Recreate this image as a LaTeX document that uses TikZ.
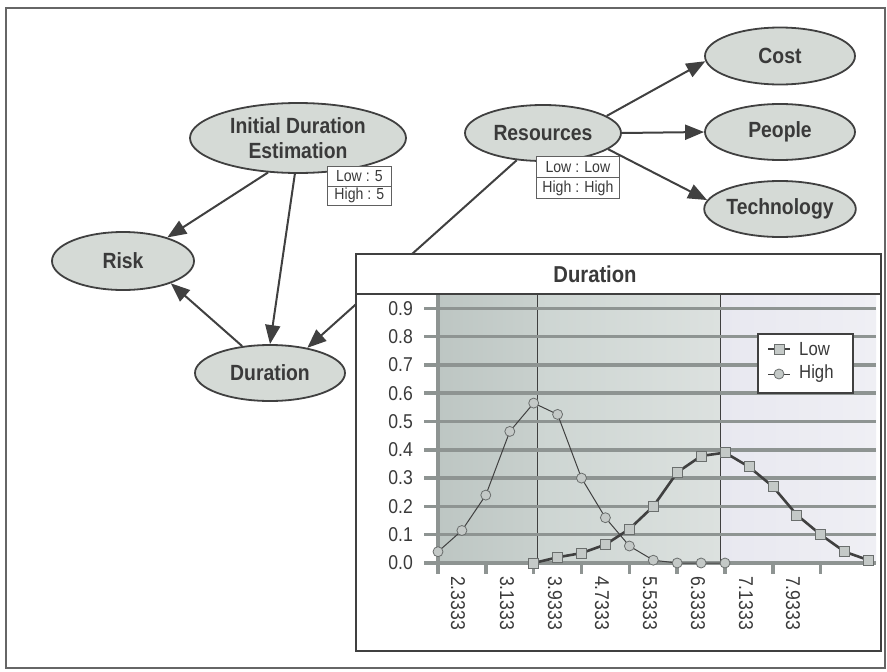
\documentclass[tikz,border=0pt]{standalone}
\usepackage{fontspec}
\setmainfont{Liberation Sans}[FakeStretch=0.88]
\usetikzlibrary{arrows.meta,shapes.geometric,plotmarks}
\definecolor{ink}{HTML}{3A3A3A}
\definecolor{nodefill}{HTML}{D5DAD6}
\definecolor{edgec}{HTML}{404040}
\definecolor{gridc}{HTML}{8E9492}
\definecolor{bgA}{HTML}{BDC6C3}
\definecolor{bgB}{HTML}{C8D0CD}
\definecolor{bgC}{HTML}{CDD5D2}
\definecolor{bgD}{HTML}{DCE1DF}
\definecolor{bgE}{HTML}{E8E8F0}
\definecolor{bgF}{HTML}{EFEFF4}
\definecolor{mkfill}{HTML}{C4C9C7}
\definecolor{mkdraw}{HTML}{6A6E6D}
\begin{document}
\begin{tikzpicture}[x=1pt,y=-1pt,
  bnode/.style={ellipse, draw=edgec, line width=1.8pt, fill=nodefill, text=ink,
    font=\fontsize{22}{25}\selectfont\bfseries, inner sep=0pt, align=center},
  conn/.style={draw=edgec, line width=2pt, -{Triangle[length=19pt,width=15pt]}},
  valbox/.style={draw=gray!75!black, line width=0.8pt, fill=white, text=ink,
    font=\fontsize{16}{18}\selectfont, inner sep=0pt, anchor=north west},
  gridln/.style={draw=gridc, line width=3.5pt},
  ylab/.style={anchor=east, text=ink, font=\fontsize{20}{22}\selectfont, inner sep=0pt},
  xlab/.style={anchor=west, rotate=-90, text=ink, font=\fontsize{20}{22}\selectfont, inner sep=0pt},
  highln/.style={draw=edgec, line width=1pt},
  lowln/.style={draw=edgec, line width=2.6pt},
  highmk/.style={mark=*, mark size=5pt, mark options={fill=mkfill, draw=mkdraw, line width=0.8pt}},
  lowmk/.style={mark=square*, mark size=5pt, mark options={fill=mkfill, draw=mkdraw, line width=0.8pt}},
  legtxt/.style={anchor=west, text=ink, font=\fontsize{19}{21}\selectfont, inner sep=0pt}
]
\useasboundingbox (0,0) rectangle (887,672);
\draw[gray!80!black, line width=1.5pt] (6,8) rectangle (885,668);

% nodes
\node[bnode, minimum width=216pt, minimum height=70pt] (ide) at (298,138) {Initial Duration\\Estimation};
\node[bnode, minimum width=142pt, minimum height=58pt] (risk) at (123,261) {Risk};
\node[bnode, minimum width=150pt, minimum height=56pt] (dur) at (270,373) {Duration};
\node[bnode, minimum width=156pt, minimum height=56pt] (res) at (543,133) {Resources};
\node[bnode, minimum width=150pt, minimum height=57pt] (cost) at (780,56) {Cost};
\node[bnode, minimum width=150pt, minimum height=56pt] (people) at (780,132) {People};
\node[bnode, minimum width=150pt, minimum height=56pt] (tech) at (780,209) {Technology};

% value boxes
\node[valbox, minimum width=64pt, minimum height=19.5pt] (ideLow) at (327,166) {Low : 5};
\node[valbox, minimum width=64pt, minimum height=19.5pt] (ideHigh) at (327,185.5) {High : 5};
\node[valbox, minimum width=83pt, minimum height=21pt] (resLow) at (536,156) {Low : Low};
\node[valbox, minimum width=83pt, minimum height=21pt] (resHigh) at (536,177) {High : High};

% connectors
\draw[conn] (ide.229) -- (risk.28);
\draw[conn] (ide.265) -- (dur.90);
\draw[conn] (dur.136) -- (risk.335);
\draw[conn] (res.226) -- (dur.34);
\draw[conn] (res.15) -- (cost.184);
\draw[conn] (res.east) -- (people.west);
\draw[conn] (res.346) -- (tech.173);

% chart frame
\node[draw=edgec, line width=1.8pt, fill=white, minimum width=525pt, minimum height=397pt,
  anchor=north west, inner sep=0pt] (chart) at (355,253) {};
\node[text=ink, font=\fontsize{23}{25}\selectfont\bfseries, inner sep=0pt] (ctitle) at (595,274) {Duration};
\draw[edgec, line width=1.2pt] (355,294) -- (880,294);

% plot background
\shade[left color=bgA, right color=bgB] (437,295) rectangle (537,563);
\shade[left color=bgC, right color=bgD] (537,295) rectangle (720,563);
\shade[left color=bgE, right color=bgF] (720,295) rectangle (876,563);
\draw[edgec, line width=0.8pt] (537,295) -- (537,563);
\draw[edgec, line width=0.8pt] (720,295) -- (720,563);

% grid lines and axes
\foreach \k in {0,...,9} {
  \draw[gridln] (424,{563-28.3*\k}) -- (876,{563-28.3*\k});
}
\draw[gridln] (438,295) -- (438,574);
\foreach \j in {1,...,8} {
  \draw[gridln] ({438+47.84*\j},563) -- ++(0,11);
}

% y labels
\foreach \k/\t in {0/0.0,1/0.1,2/0.2,3/0.3,4/0.4,5/0.5,6/0.6,7/0.7,8/0.8,9/0.9} {
  \node[ylab] at (413,{563-28.3*\k}) {\t};
}
% x labels
\foreach \xx/\t in {458/2.3333,507/3.1333,555/3.9333,602/4.7333,650/5.5333,698/6.3333,746/7.1333,793/7.9333} {
  \node[xlab] at (\xx,576) {\t};
}

% series
\draw[highln] plot[highmk] coordinates {(438,551.7) (461.9,530.5) (485.8,495.1) (509.8,431.4)
  (533.7,403.1) (557.6,414.4) (581.5,478.1) (605.4,517.7) (629.4,546) (653.3,560.2)
  (677.2,563) (701.1,563) (725,563)};
\draw[lowln] plot[lowmk] coordinates {(533.7,563) (557.6,557.3) (581.5,553.1) (605.4,544.6)
  (629.4,529) (653.3,506.4) (677.2,472.4) (701.1,456) (725,452.6) (749,466.8)
  (772.9,486.6) (796.8,514.9) (820.7,534.7) (844.6,551.7) (868.6,560.2)};

% legend
\node[draw=edgec, line width=1.5pt, fill=white, minimum width=95pt, minimum height=59pt,
  anchor=north west, inner sep=0pt] (legend) at (757,333) {};
\draw[lowln] (768,349) -- (790,349);
\path plot[lowmk] coordinates {(779,349)};
\draw[highln] (768,374) -- (790,374);
\path plot[highmk] coordinates {(779,374)};
\node[legtxt] (legLow) at (799,349) {Low};
\node[legtxt] (legHigh) at (799,374) {High};
\end{tikzpicture}
\end{document}
